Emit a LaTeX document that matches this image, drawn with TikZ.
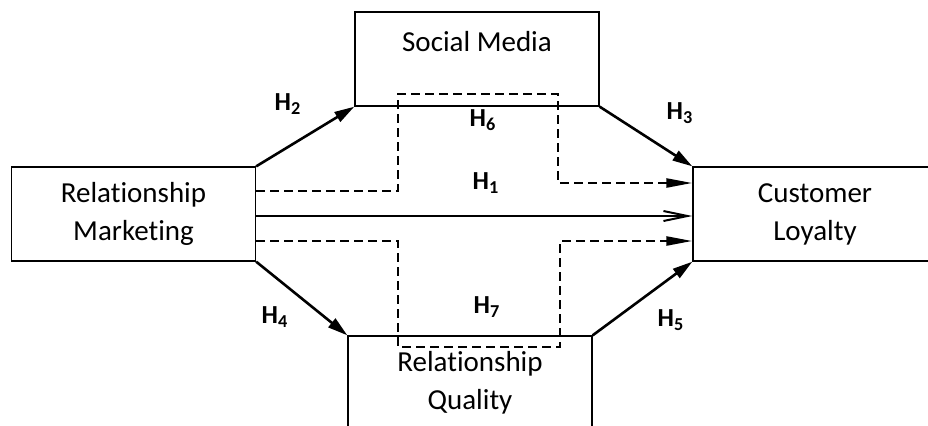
\documentclass[tikz,border=0pt]{standalone}
\usepackage{fontspec}
\setmainfont{Carlito}[Ligatures=NoCommon]
\usetikzlibrary{arrows.meta,positioning}

\tikzset{
    construct/.style={draw, line width=0.65pt, minimum width=122pt, minimum height=47pt,
        inner sep=0pt, align=center, font=\fontsize{14.5}{19}\selectfont},
    direct/.style={line width=1.3pt, -{Triangle[length=10pt,width=5.5pt]}},
    mediated/.style={line width=1.2pt, dash pattern=on 4.5pt off 2.5pt, -{Triangle[length=13pt,width=4.5pt]}},
    total/.style={line width=1pt, -{Straight Barb[length=12pt,width=5pt]}},
    hyp/.style={font=\bfseries\fontsize{13}{15}\selectfont},
}
\newcommand{\hyp}[1]{H\textsubscript{#1}}

\begin{document}
\begin{tikzpicture}[x=0.5pt, y=-0.5pt]
    \useasboundingbox (0,0) rectangle (928,425);
    \clip (0,0) rectangle (928,425);

    % constructs
    \node[construct] (rm) at (133.5,214) {Relationship\\Marketing};
    \node[construct] (sm) at (477,59) {};
    \node[font=\fontsize{14.5}{19}\selectfont] (smtext) at (477,42) {Social Media};
    \node[construct] (cl) at (815,214) {Customer\\Loyalty};
    \node[construct] (rq) at (470,383) {Relationship\\Quality};

    % direct paths
    \draw[direct] (rm.north east) -- (sm.south west);
    \draw[direct] (sm.south east) -- (cl.north west);
    \draw[direct] (rm.south east) -- (rq.north west);
    \draw[direct] (rq.north east) -- (cl.south west);
    \draw[total] (rm.east |- 0,216) -- (cl.west |- 0,216);

    % indirect paths through the mediators
    \draw[mediated] (rm.east |- 0,191) -| (398,94) -| (558,183) -- (cl.west |- 0,183);
    \draw[mediated] (rm.east |- 0,241) -| (398,347) -| (560,241) -- (cl.west |- 0,241);

    % hypotheses
    \node[hyp] (h1) at (486,183) {\hyp{1}};
    \node[hyp] (h2) at (288,104) {\hyp{2}};
    \node[hyp] (h3) at (680,113) {\hyp{3}};
    \node[hyp] (h4) at (275,317) {\hyp{4}};
    \node[hyp] (h5) at (671,320) {\hyp{5}};
    \node[hyp] (h6) at (483,120) {\hyp{6}};
    \node[hyp] (h7) at (487,307) {\hyp{7}};
\end{tikzpicture}
\end{document}
